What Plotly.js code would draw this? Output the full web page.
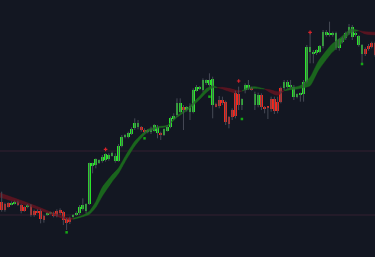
<!DOCTYPE html>
<html><head><meta charset="utf-8">
<script src="https://cdn.plot.ly/plotly-3.0.1.min.js"></script>
<style>html,body{margin:0;padding:0;background:#131722;}#c{width:375px;height:257px;}</style>
</head><body><div id="c"></div>
<script>
const open  = [195,188,190,186,188,195,185,178,178,185,168,168,168,152,155,160,162,168,170,164,143,145,150,155,160,172,168,188,302,305,312,318,320,322,332,318,318,362,388,390,398,415,418,418,410,405,404,408,402,402,395,408,420,442,455,465,478,470,465,465,528,533,530,550,545,485,487,500,500,494,449,470,520,518,485,530,535,537,485,485,515,480,480,502,502,495,535,535,538,538,510,510,514,518,555,645,638,642,645,662,695,694,694,655,655,675,685,700,688,694,665,638,652,662,670,670];
const high  = [225,192,193,196,198,198,188,181,188,188,171,172,172,155,163,165,165,172,175,167,146,150,158,166,185,205,190,312,312,325,322,335,340,340,345,340,368,395,398,405,418,445,440,422,415,412,420,428,425,405,415,425,450,460,505,505,485,482,490,535,545,542,565,562,580,570,492,512,510,498,452,475,528,540,505,550,560,540,525,522,520,482,480,510,510,510,540,560,560,560,545,520,522,560,665,700,650,652,665,710,710,735,705,705,685,690,705,728,725,705,695,668,658,668,675,675];
const low   = [165,165,177,184,186,182,160,165,175,150,150,160,130,132,152,157,148,148,155,125,110,128,147,152,155,168,160,185,280,295,308,312,315,318,330,312,315,358,385,385,395,410,412,405,400,400,398,405,385,380,392,405,415,440,450,460,410,465,440,460,525,530,525,545,540,445,478,475,485,425,415,440,445,470,470,520,530,528,470,478,470,460,443,465,458,460,490,530,535,535,500,505,495,495,550,610,610,635,640,655,690,690,690,650,648,670,680,695,680,690,660,610,632,648,655,630];
const close = [170,170,180,192,195,185,168,168,185,155,155,162,142,140,160,165,152,152,160,140,130,135,155,162,180,185,188,310,310,322,320,330,337,335,340,332,362,390,395,400,412,430,430,410,405,410,414,425,420,395,412,420,445,452,492,490,470,478,482,530,538,540,560,560,560,563,480,482,490,434,428,449,452,485,503,545,545,530,518,515,480,474,476,472,468,468,495,555,555,544,538,518,520,555,660,660,645,650,662,705,705,700,701,702,682,685,700,720,720,700,692,665,638,652,660,635];

const sellX = [32, 73, 95];
const sellY = [352, 557, 703];
const buyX  = [20, 44, 64, 74, 111];
const buyY  = [103, 385, 510, 443, 608];

const levels = [347, 155];

// ribbon segments (fast / slow averages)
const segRedAX = [-0.8, 5.6, 9.8, 14.9, 20, 22];
const segRedAa = [222, 200, 185, 165, 148, 145];
const segRedAb = [209, 190, 177, 158, 142, 142];
const segGrnBX = [22, 25, 27, 29, 31, 34, 36, 38, 41, 43, 45, 48, 51, 54, 57, 59, 61, 63, 65, 66.5];
const segGrnBa = [145, 154, 166, 195, 238, 275, 296, 330, 376, 396, 412, 420, 424, 453, 473, 492, 512, 534, 543, 537];
const segGrnBb = [142, 150, 157, 178, 212, 255, 280, 315, 362, 386, 404, 415, 421, 448, 468, 484, 502, 522, 537, 537];
const segRedCX = [66.5, 68, 70, 72, 74];
const segRedCa = [537, 538, 535, 530, 527];
const segRedCb = [537, 533, 526, 521, 527];
const segGrnDX = [74, 76, 78, 79.5, 81];
const segGrnDa = [527, 538, 540, 537, 533];
const segGrnDb = [527, 532, 535, 534, 533];
const segRedEX = [81, 83, 85, 87];
const segRedEa = [533, 530, 525, 528];
const segRedEb = [533, 521, 514, 528];
const segGrnFX = [87, 89, 91, 92.5, 95, 97.5, 101.5, 104.5, 107.5, 109, 110];
const segGrnFa = [528, 538, 540, 546, 568, 615, 665, 688, 713, 711, 708];
const segGrnFb = [528, 531, 533, 536, 543, 588, 640, 668, 702, 706, 708];
const segRedGX = [110, 112, 115.8];
const segRedGa = [708, 705, 703];
const segRedGb = [708, 698, 695];

const GREEN = '#2ae52a', RED = '#f0281e', WICK = '#464a56';
const RIB_G = 'rgba(28,115,28,0.85)', RIB_R = 'rgba(105,20,32,0.8)';

const idx = open.map((_, i) => i);
const traces = [];

function ribbon(x, a, b, col) {
  traces.push({x: x, y: a, type: 'scatter', mode: 'lines', line: {color: col, width: 0.5, shape: 'spline', smoothing: 0.6}, hoverinfo: 'skip'});
  traces.push({x: x, y: b, type: 'scatter', mode: 'lines', fill: 'tonexty', fillcolor: col, line: {color: col, width: 0.5, shape: 'spline', smoothing: 0.6}, hoverinfo: 'skip'});
}
ribbon(segRedAX, segRedAa, segRedAb, RIB_R);
ribbon(segGrnBX, segGrnBa, segGrnBb, RIB_G);
ribbon(segRedCX, segRedCa, segRedCb, RIB_R);
ribbon(segGrnDX, segGrnDa, segGrnDb, RIB_G);
ribbon(segRedEX, segRedEa, segRedEb, RIB_R);
ribbon(segGrnFX, segGrnFa, segGrnFb, RIB_G);
ribbon(segRedGX, segRedGa, segRedGb, RIB_R);

// wicks
const wx = [], wy = [];
idx.forEach(i => { wx.push(i, i, null); wy.push(low[i], high[i], null); });
traces.push({x: wx, y: wy, type: 'scatter', mode: 'lines', line: {color: WICK, width: 1}, hoverinfo: 'skip'});

// bodies (minimum visible height for near-doji candles)
const MINB = 6;
traces.push({
  x: idx, type: 'bar',
  base: idx.map(i => {
    const lo = Math.min(open[i], close[i]), d = Math.abs(close[i] - open[i]);
    return d < MINB ? lo - (MINB - d) / 2 : lo;
  }),
  y: idx.map(i => Math.max(Math.abs(close[i] - open[i]), MINB)),
  width: 0.85,
  marker: {color: idx.map(i => close[i] >= open[i] ? GREEN : RED), line: {width: 0}},
  hoverinfo: 'skip'
});

traces.push({x: sellX, y: sellY, type: 'scatter', mode: 'markers', marker: {symbol: 'cross', size: 3, color: '#d8232a'}, hoverinfo: 'skip'});
traces.push({x: buyX, y: buyY, type: 'scatter', mode: 'markers', marker: {symbol: 'square', size: 2.5, color: '#16a816'}, hoverinfo: 'skip'});

const layout = {
  width: 375, height: 257,
  margin: {l: 0, r: 0, t: 0, b: 0},
  paper_bgcolor: '#131722', plot_bgcolor: '#131722',
  showlegend: false,
  bargap: 0,
  xaxis: {range: [-0.52, 115.0], visible: false, showgrid: false, zeroline: false, fixedrange: true},
  yaxis: {range: [29, 800], visible: false, showgrid: false, zeroline: false, fixedrange: true},
  shapes: levels.map(v => ({type: 'line', xref: 'paper', x0: 0, x1: 1, yref: 'y', y0: v, y1: v, line: {color: '#352030', width: 1}, layer: 'below'}))
};
Plotly.newPlot('c', traces, layout, {staticPlot: true, displayModeBar: false});
</script>
</body></html>
